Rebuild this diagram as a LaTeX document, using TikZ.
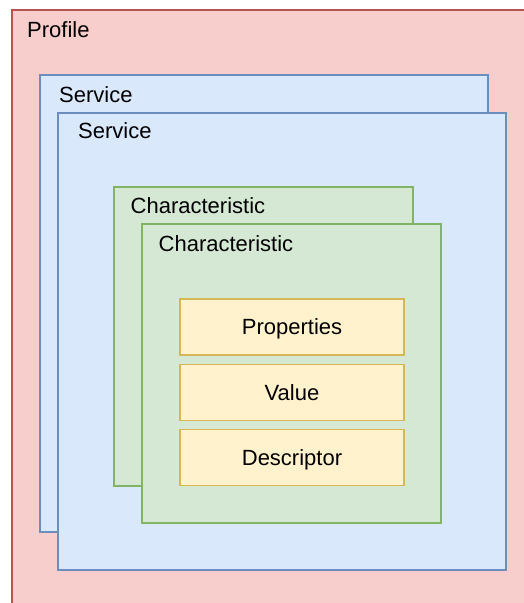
\documentclass[tikz,border=0pt]{standalone}
\usepackage{fontspec}
\setmainfont{Liberation Sans}
\definecolor{redfill}{HTML}{F8CECC}
\definecolor{redline}{HTML}{B85450}
\definecolor{bluefill}{HTML}{DAE8FC}
\definecolor{blueline}{HTML}{6C8EBF}
\definecolor{greenfill}{HTML}{D5E8D4}
\definecolor{greenline}{HTML}{82B366}
\definecolor{yellowfill}{HTML}{FFF2CC}
\definecolor{yellowline}{HTML}{D6B656}
\begin{document}
\begin{tikzpicture}[x=1pt,y=-1pt,
  font=\fontsize{22pt}{26pt}\selectfont,
  box/.style={rectangle, anchor=north west, inner sep=0pt, outer sep=0pt, line width=1.5pt},
  servicebox/.style={box, fill=bluefill, draw=blueline, minimum width=448pt, minimum height=457pt},
  charbox/.style={box, fill=greenfill, draw=greenline, minimum width=299pt, minimum height=299pt},
  itembox/.style={box, fill=yellowfill, draw=yellowline, minimum width=224pt, minimum height=56pt,
    text height=15.75pt, text depth=0pt},
  label/.style={anchor=base west, inner sep=0pt}]
  \useasboundingbox (0,0) rectangle (524,603);
  % outer profile container, running off the right and bottom edges
  \fill[redfill] (12,10) rectangle (524,603);
  \draw[redline, line width=1.5pt] (12,603) -- (12,10) -- (524,10);
  \node[label] (profile) at (27,37) {Profile};
  % services
  \node[servicebox] (svc1) at (40,75) {};
  \node[label] (svc1label) at (59,102) {Service};
  \node[servicebox] (svc2) at (58,113) {};
  \node[label] (svc2label) at (78,138) {Service};
  % characteristics
  \node[charbox] (chr1) at (114,187) {};
  \node[label] (chr1label) at (130.5,213) {Characteristic};
  \node[charbox] (chr2) at (142,224) {};
  \node[label] (chr2label) at (158.5,251) {Characteristic};
  % characteristic contents
  \node[itembox] (props) at (180,299) {Properties};
  \node[itembox] (value) at (180,364.5) {Value};
  \node[itembox] (descr) at (180,429.5) {Descriptor};
\end{tikzpicture}
\end{document}
